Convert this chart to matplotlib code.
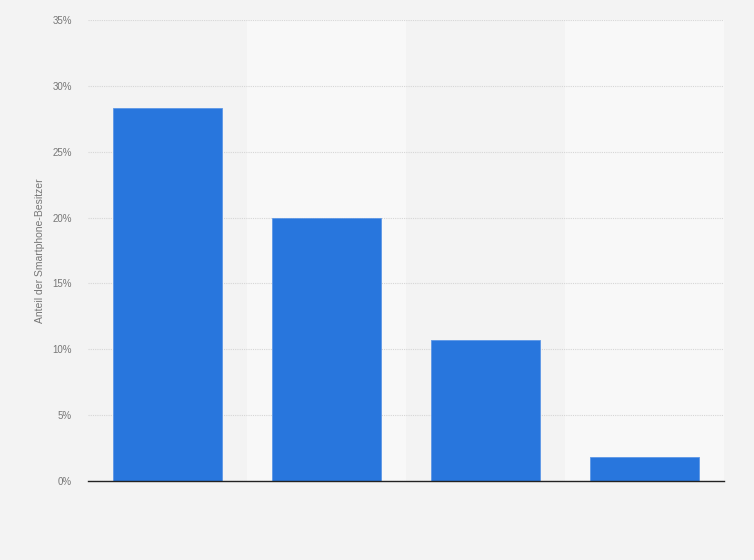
import matplotlib
matplotlib.use("Agg")
import matplotlib.pyplot as plt
from matplotlib.ticker import FuncFormatter

categories = ["Kategorie 1", "Kategorie 2", "Kategorie 3", "Kategorie 4"]
values = [28.3, 20.0, 10.7, 1.8]
y_ticks = [0, 5, 10, 15, 20, 25, 30, 35]
y_label = "Anteil der Smartphone-Besitzer"

plt.rcParams["font.family"] = ["Liberation Sans", "DejaVu Sans"]

bg = "#f3f3f3"
fig = plt.figure(figsize=(7.54, 5.6), dpi=100, facecolor=bg)
ax = fig.add_axes([88 / 754, 79 / 560, 636 / 754, 461 / 560])
ax.set_facecolor(bg)

x = list(range(len(categories)))
# alternating column bands
for i in x:
    if i % 2 == 1:
        ax.axvspan(i - 0.5, i + 0.5, color="#f8f8f8", zorder=0, lw=0)

ax.bar(x, values, width=0.686, color="#2876dd", edgecolor="#5d97e6",
       linewidth=0.6, zorder=3)

ax.set_xlim(-0.5, len(categories) - 0.5)
ax.set_ylim(0, 35)
ax.set_yticks(y_ticks)
ax.yaxis.set_major_formatter(FuncFormatter(lambda v, p: f"{v:g}%"))
ax.set_xticks(x)
ax.set_xticklabels([""] * len(categories))
ax.tick_params(axis="x", length=0)
ax.tick_params(axis="y", length=0, pad=11.5, labelsize=7, labelcolor="#777777")

ax.grid(axis="y", color="#d6d6d6", linestyle=(0, (1, 1)), linewidth=0.8, zorder=1)
ax.set_axisbelow(True)
for s in ["top", "right", "left"]:
    ax.spines[s].set_visible(False)
ax.spines["bottom"].set_color("#222222")
ax.spines["bottom"].set_linewidth(1.0)
ax.spines["bottom"].set_zorder(4)

ax.set_ylabel(y_label, fontsize=7.5, color="#777777")
ax.yaxis.set_label_coords(-43 / 636, 0.5)

fig.savefig("out.png", dpi=100, facecolor=bg)
